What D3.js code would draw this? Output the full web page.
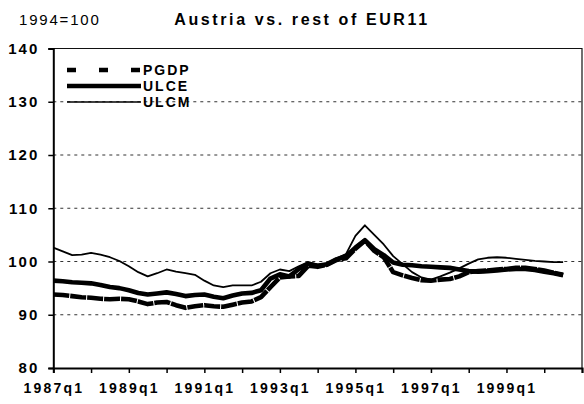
<!DOCTYPE html>
<html>
<head>
<meta charset="utf-8">
<script src="https://cdn.jsdelivr.net/npm/d3@7"></script>
<style>
  body { margin: 0; background: #fff; }
  svg { font-family: Arial, "Liberation Sans", sans-serif; }
</style>
</head>
<body>
<div id="chart-area"></div>
<script>
// quarterly categories, 1987q1 .. 2000q3
const quarters = []
for (let y = 1987; y <= 2000; y++) {
  for (let q = 1; q <= 4; q++) {
    if (y === 2000 && q > 3) break
    quarters.push(y + 'q' + q)
  }
}

const pgdp = [93.8, 93.7, 93.5, 93.3, 93.2, 93.0, 92.9, 93.0, 92.9, 92.5,
  92.0, 92.3, 92.4, 91.8, 91.3, 91.6, 91.8, 91.6, 91.5, 91.9,
  92.3, 92.5, 93.3, 95.2, 97.0, 97.2, 97.3, 99.2, 99.0, 99.4,
  100.3, 100.6, 102.4, 103.9, 102.0, 100.8, 98.0, 97.4, 96.9, 96.5,
  96.4, 96.6, 96.7, 97.2, 98.0, 98.2, 98.3, 98.5, 98.6, 98.8,
  98.8, 98.6, 98.3, 97.9, 97.5]

const ulce = [96.4, 96.3, 96.1, 96.0, 95.9, 95.6, 95.2, 95.0, 94.6, 94.1,
  93.8, 94.0, 94.2, 93.9, 93.5, 93.7, 93.8, 93.4, 93.1, 93.6,
  94.0, 94.1, 94.6, 96.8, 97.6, 97.2, 98.6, 99.6, 99.2, 99.5,
  100.4, 101.0, 102.6, 104.0, 102.3, 101.2, 99.8, 99.4, 99.3, 99.1,
  99.0, 98.9, 98.8, 98.5, 98.2, 98.1, 98.2, 98.3, 98.5, 98.6,
  98.6, 98.4, 98.1, 97.8, 97.4]

const ulcm = [102.6, 101.9, 101.2, 101.3, 101.6, 101.3, 100.8, 100.1, 99.1, 98.0,
  97.2, 97.8, 98.5, 98.1, 97.8, 97.5, 96.4, 95.5, 95.2, 95.5,
  95.5, 95.5, 96.2, 97.8, 98.5, 98.2, 99.1, 99.9, 99.4, 99.6,
  100.6, 101.4, 104.8, 106.8, 105.0, 103.2, 101.0, 99.5, 98.0, 97.0,
  96.6, 97.2, 97.9, 98.7, 99.6, 100.4, 100.7, 100.8, 100.7, 100.5,
  100.3, 100.1, 100.0, 99.9, 99.9]

const yTicks = [80, 90, 100, 110, 120, 130, 140]
const gridValues = [90, 100, 110, 120, 130]
const xLabels = ['1987q1', '1989q1', '1991q1', '1993q1', '1995q1', '1997q1', '1999q1']

const width = 584, height = 404
const margin = {top: 48.5, right: 2, bottom: 36, left: 53.3}

const svg = d3.select('#chart-area').append('svg')
  .attr('width', width)
  .attr('height', height)

// 56 quarter steps from 1987q1 to 2001q1
const x = d3.scaleLinear().domain([0, 56]).range([margin.left, width - margin.right])
const y = d3.scaleLinear().domain([80, 140]).range([height - margin.bottom, margin.top])

// titles
svg.append('text')
  .attr('x', 19).attr('y', 25)
  .style('font-size', '15px').style('letter-spacing', '1.8px')
  .text('1994=100')

svg.append('text')
  .attr('x', 302).attr('y', 25)
  .attr('text-anchor', 'middle')
  .style('font-size', '16px').style('font-weight', 'bold').style('letter-spacing', '2.6px')
  .text('Austria vs. rest of EUR11')

// gridlines
svg.append('g').selectAll('line').data(gridValues).enter().append('line')
  .attr('x1', x(0)).attr('x2', x(56))
  .attr('y1', d => y(d)).attr('y2', d => y(d))
  .attr('stroke', '#333').attr('stroke-width', 1)
  .attr('stroke-dasharray', '3,4')

// plot border (top, right)
svg.append('path')
  .attr('d', `M${x(0)},${y(140)}H${x(56)}V${y(80)}`)
  .attr('fill', 'none').attr('stroke', '#111').attr('stroke-width', 1.2)

// y axis
const yAxis = svg.append('g')
  .attr('transform', `translate(${x(0)},0)`)
  .call(d3.axisLeft(y).tickValues(yTicks).tickSize(5).tickPadding(9))
yAxis.select('.domain').attr('stroke', '#000').attr('stroke-width', 2)
yAxis.selectAll('line').attr('stroke', '#000').attr('stroke-width', 1.5)
yAxis.selectAll('text')
  .style('font-size', '15px').style('letter-spacing', '2px')
  .style('font-weight', 'bold')
  .attr('fill', '#000')

// x axis
const xTickVals = d3.range(0, 57, 4)
const xAxis = svg.append('g')
  .attr('transform', `translate(0,${y(80)})`)
  .call(d3.axisBottom(x).tickValues(xTickVals).tickSize(5).tickPadding(10)
    .tickFormat(d => {
      const lab = d < quarters.length ? quarters[d] : ''
      return xLabels.includes(lab) ? lab : ''
    }))
xAxis.select('.domain').attr('stroke', '#000').attr('stroke-width', 2)
xAxis.selectAll('line').attr('stroke', '#000').attr('stroke-width', 1.5)
xAxis.selectAll('text')
  .style('font-size', '14px').style('letter-spacing', '2.2px')
  .style('font-weight', 'bold')
  .attr('fill', '#000')

const line = d3.line()
  .x((d, i) => x(i))
  .y(d => y(d))
  .curve(d3.curveLinear)

const series = [
  {name: 'ULCM', values: ulcm, w: 1.8, dash: null},
  {name: 'ULCE', values: ulce, w: 4.6, dash: null},
  {name: 'PGDP', values: pgdp, w: 4.6, dash: '16,1'}
]

svg.append('g').selectAll('path').data(series).enter().append('path')
  .attr('d', d => line(d.values))
  .attr('fill', 'none')
  .attr('stroke', '#000')
  .attr('stroke-width', d => d.w)
  .attr('stroke-linejoin', 'round')
  .attr('stroke-dasharray', d => d.dash)

// legend
const legend = [
  {name: 'PGDP', w: 4.5, dash: '9,23'},
  {name: 'ULCE', w: 4.5, dash: null},
  {name: 'ULCM', w: 1.7, dash: null}
]
const lg = svg.append('g').selectAll('g').data(legend).enter().append('g')
  .attr('transform', (d, i) => `translate(0,${70 + i * 16})`)
lg.append('line')
  .attr('x1', 67).attr('x2', 141)
  .attr('stroke', '#000')
  .attr('stroke-width', d => d.w)
  .attr('stroke-dasharray', d => d.dash)
lg.append('text')
  .attr('x', 143).attr('y', 5)
  .style('font-size', '14px').style('font-weight', 'bold').style('letter-spacing', '2px')
  .text(d => d.name)
</script>
</body>
</html>
